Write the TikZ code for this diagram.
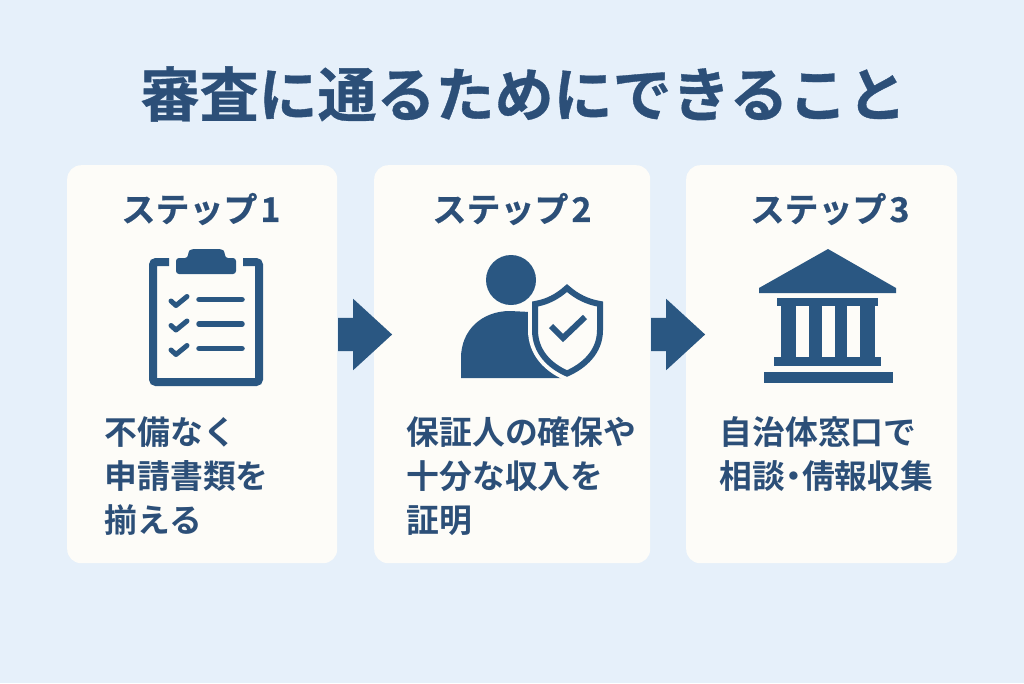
\documentclass[tikz,border=0pt]{standalone}
\usepackage{fontspec}
\usetikzlibrary{positioning,shapes.arrows}
\newfontfamily\jpbold{Noto Sans CJK JP Bold}
\newfontfamily\jpheavy[FakeBold=0.6]{Noto Sans CJK JP Bold}
\definecolor{bgblue}{HTML}{E6F0FA}
\definecolor{cardwhite}{HTML}{FDFCF8}
\definecolor{navy}{HTML}{2A5782}
\definecolor{textnavy}{HTML}{2C4F78}
\tikzset{
    card/.style={fill=cardwhite,rounded corners=14pt,inner sep=0pt,anchor=north west},
    steplabel/.style={text=textnavy,font=\jpheavy\fontsize{34}{34}\selectfont,inner sep=0pt},
    bodytext/.style={text=textnavy,font=\jpbold\fontsize{32.8}{44}\selectfont,align=left,inner sep=0pt,anchor=west},
    flowarrow/.style={single arrow,fill=navy,minimum height=54pt,inner xsep=0pt,inner ysep=16.5pt,
        single arrow head extend=19pt,single arrow head indent=0pt,single arrow tip angle=85},
    iconline/.style={draw=navy,line width=5.5pt,line cap=round,line join=round},
}
\begin{document}
\begin{tikzpicture}[x=1pt,y=-1pt]
        \useasboundingbox (0,0) rectangle (1024,683);
        \fill[bgblue] (0,0) rectangle (1024,683);

        % Title
        \node[text=textnavy,font=\jpheavy\fontsize{59}{59}\selectfont,inner sep=0pt] (title) at (523.5,94) {審査に通るためにできること};

        % Cards
        \node[card,minimum width=270pt,minimum height=398pt] (card1) at (67,165) {};
        \node[card,minimum width=276pt,minimum height=398pt] (card2) at (374,165) {};
        \node[card,minimum width=271pt,minimum height=398pt] (card3) at (686,165) {};

        % Arrows
        \node[flowarrow] (arrow1) at (356,334.5) {};
        \node[flowarrow] (arrow2) at (669,334.5) {};

        % Step labels
        \node[steplabel] (step1) at (201,209) {ステップ\hspace{3pt}1};
        \node[steplabel] (step2) at (512,209) {ステップ\hspace{3pt}2};
        \node[steplabel] (step3) at (830,209) {ステップ\hspace{3pt}3};

        % Clipboard
        \draw[navy,line width=8pt,rounded corners=3pt] (169,262) -- (153,262) -- (153,382) -- (259,382) -- (259,262) -- (243,262);
        \fill[navy,rounded corners=3pt] (176,258) -- (188,258) -- (188,252) -- (191,249) -- (222,249) -- (225,252) -- (225,258) -- (236,258) -- (236,274) -- (176,274) -- cycle;
        \foreach \y in {0,24.5,49} {
            \draw[iconline,line width=5pt] (171,{301+\y}) -- (176,{305.5+\y}) -- (187,{296.5+\y});
            \draw[iconline] (199,{299.5+\y}) -- (242,{299.5+\y});
        }

        % Person with shield
        \fill[navy] (511,280) circle (25);
        \fill[navy] (461,378) -- (461,358) .. controls (461,330) and (482,311) .. (510,311) -- (530,312) -- (570,378) -- cycle;
        \draw[cardwhite,line width=14pt,line join=round,fill=cardwhite] (567,288) .. controls (557,297) and (547,302) .. (535,304) -- (535,330) .. controls (535,352) and (550,366) .. (567,373.5) .. controls (584,366) and (600,352) .. (600,330) -- (600,304) .. controls (588,302) and (577,297) .. (567,288) -- cycle;
        \draw[navy,line width=6pt,line join=miter] (567,288) .. controls (557,297) and (547,302) .. (535,304) -- (535,330) .. controls (535,352) and (550,366) .. (567,373.5) .. controls (584,366) and (600,352) .. (600,330) -- (600,304) .. controls (588,302) and (577,297) .. (567,288) -- cycle;
        \draw[navy,line width=6pt] (551,326) -- (563,338) -- (585,317);

        % Bank
        \fill[navy] (828,249) -- (896,288) -- (896,293) -- (759,293) -- (759,288) -- cycle;
        \fill[navy] (777,298) rectangle (878,306);
        \foreach \a/\b in {781/796,809/822,835/847,860/875} {
            \fill[navy] (\a,306) rectangle (\b,357);
        }
        \fill[navy] (774,357) rectangle (881,366);
        \fill[navy] (764,372) rectangle (893,383);

        % Body texts
        \node[bodytext] (text1) at (104.5,476) {不備なく\\申請書類を\\揃える};
        \node[bodytext] (text2) at (406.5,476) {保証人の確保や\\十分な収入を\\証明};
        \node[bodytext] (text3) at (719.5,454) {自治体窓口で\\相談\hspace{-8pt}・\hspace{-8pt}倩報収集};
\end{tikzpicture}
\end{document}
